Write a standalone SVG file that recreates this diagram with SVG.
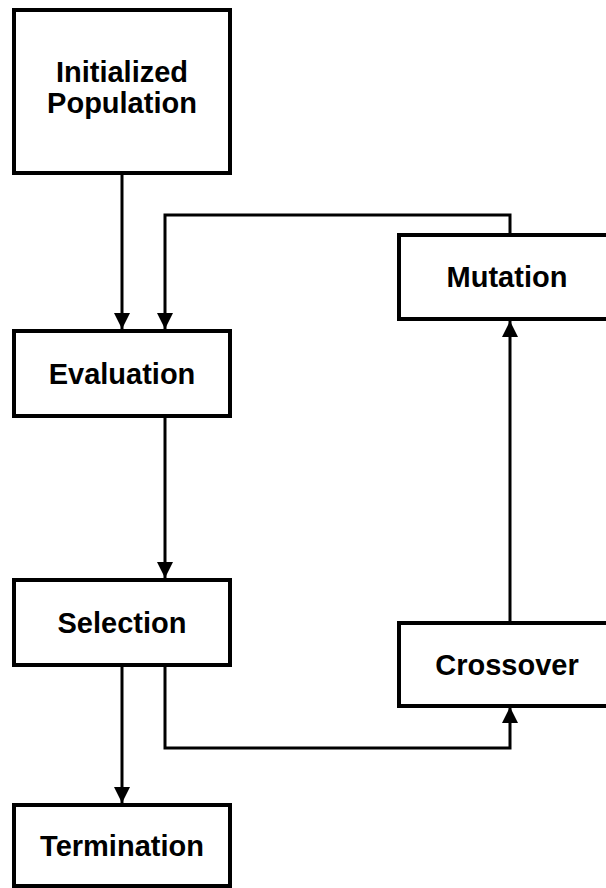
<svg xmlns="http://www.w3.org/2000/svg" width="606" height="888" viewBox="0 0 606 888">
<style>
.box{fill:#fff;stroke:#000;stroke-width:4}
.lbl{font-family:"Liberation Sans",Arial,sans-serif;font-weight:bold;font-size:29px;text-anchor:middle;fill:#000}
.edge{fill:none;stroke:#000;stroke-width:3}
</style>
<defs>
<marker id="arr" markerUnits="userSpaceOnUse" markerWidth="16" markerHeight="16" viewBox="0 0 14 14" refX="14" refY="7" orient="auto">
<path d="M0,0 L14,7 L0,14 Z" fill="#000"/>
</marker>
</defs>
<g id="connectors">
<path class="edge" d="M122,175 V329" marker-end="url(#arr)"/>
<path class="edge" d="M510,233 V215 H165 V329" marker-end="url(#arr)"/>
<path class="edge" d="M165,418 V578" marker-end="url(#arr)"/>
<path class="edge" d="M122,667 V803" marker-end="url(#arr)"/>
<path class="edge" d="M165,667 V748 H510 V707" marker-end="url(#arr)"/>
<path class="edge" d="M510,621 V321" marker-end="url(#arr)"/>
</g>
<g id="initialized">
<rect class="box" x="14" y="10" width="216" height="163"/>
<text class="lbl" x="122" y="82">Initialized</text>
<text class="lbl" x="122" y="113">Population</text>
</g>
<g id="evaluation">
<rect class="box" x="14" y="331" width="216" height="85"/>
<text class="lbl" x="122" y="384">Evaluation</text>
</g>
<g id="selection">
<rect class="box" x="14" y="580" width="216" height="85"/>
<text class="lbl" x="122" y="632.5">Selection</text>
</g>
<g id="termination">
<rect class="box" x="14" y="805" width="216" height="81"/>
<text class="lbl" x="122" y="855.5">Termination</text>
</g>
<g id="mutation">
<rect class="box" x="399" y="235" width="216" height="84"/>
<text class="lbl" x="507" y="286.5">Mutation</text>
</g>
<g id="crossover">
<rect class="box" x="399" y="623" width="216" height="83"/>
<text class="lbl" x="507" y="674.5">Crossover</text>
</g>
</svg>
